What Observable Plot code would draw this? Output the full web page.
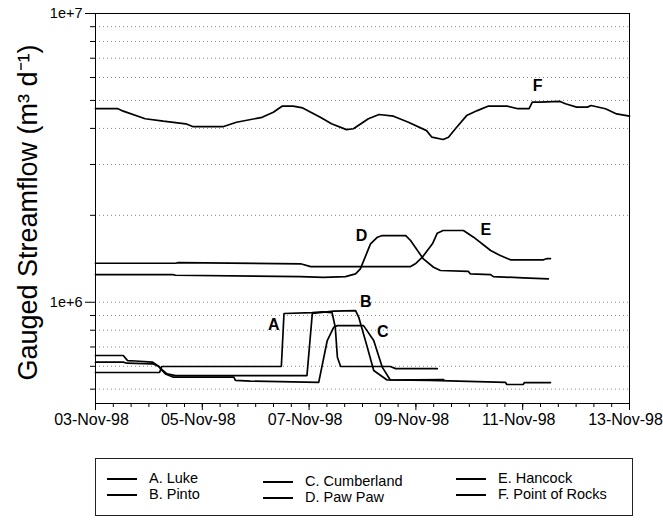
<!DOCTYPE html>
<html><head><meta charset="utf-8">
<script src="https://cdn.jsdelivr.net/npm/d3@7"></script>
<script src="https://cdn.jsdelivr.net/npm/@observablehq/plot@0.6"></script>
<style>
body{margin:0;background:#fff;font-family:Arial,"Liberation Sans",sans-serif;}
#chart{width:663px;height:445px;}
#legend{position:relative;margin-left:95px;margin-top:13px;width:538px;height:58px;border:1px solid #222;box-sizing:border-box;font-size:14.5px;color:#000;}
#legend .it{position:absolute;white-space:nowrap;line-height:16px;}
#legend .sw{display:inline-block;width:30px;height:0;border-top:2px solid #000;vertical-align:middle;margin-right:12px;}
</style></head><body>
<div id="chart"></div>
<div id="legend"></div>
<script>
// ---- data (day = fractional day of November 1998, value in millions m3/d) ----
const seriesNames = ["A. Luke","B. Pinto","C. Cumberland","D. Paw Paw","E. Hancock","F. Point of Rocks"];
const lukeA = [[3.00,0.571],[4.20,0.571],[4.24,0.599],[6.48,0.599],[6.53,0.914],[7.06,0.921],[7.25,0.926],[7.43,0.921],[7.49,0.819],[7.53,0.645],[7.59,0.599],[8.52,0.599],[8.62,0.589],[9.40,0.589]];
const pintoB = [[3.00,0.654],[3.52,0.654],[3.60,0.628],[3.75,0.626],[4.07,0.620],[4.16,0.604],[4.25,0.583],[4.34,0.565],[4.50,0.557],[6.96,0.557],[7.06,0.914],[7.46,0.931],[7.87,0.936],[7.93,0.887],[8.09,0.698],[8.21,0.580],[8.46,0.538],[9.52,0.540]];
const cumberlandC = [[3.00,0.620],[3.52,0.620],[3.59,0.615],[4.07,0.612],[4.19,0.599],[4.22,0.588],[4.31,0.565],[4.46,0.550],[5.59,0.550],[5.62,0.536],[5.90,0.533],[7.18,0.528],[7.34,0.737],[7.46,0.819],[7.53,0.830],[8.02,0.830],[8.21,0.737],[8.37,0.596],[8.52,0.538],[9.27,0.536],[10.68,0.528],[10.70,0.519],[11.01,0.519],[11.03,0.527],[11.52,0.527]];
const pawpawD = [[3.00,1.247],[4.45,1.247],[4.50,1.240],[6.84,1.227],[7.27,1.220],[7.68,1.227],[7.87,1.254],[7.96,1.305],[8.15,1.593],[8.28,1.680],[8.37,1.702],[8.81,1.702],[8.90,1.636],[9.03,1.511],[9.14,1.413],[9.33,1.322],[9.46,1.288],[9.98,1.280],[10.02,1.254],[10.40,1.247],[10.45,1.227],[11.01,1.215],[11.48,1.205]];
const hancockE = [[3.00,1.365],[4.50,1.365],[4.55,1.372],[6.84,1.359],[7.03,1.329],[8.90,1.329],[8.99,1.359],[9.12,1.432],[9.31,1.593],[9.40,1.734],[9.51,1.772],[9.89,1.772],[10.08,1.680],[10.40,1.511],[10.58,1.451],[10.77,1.403],[11.39,1.403],[11.46,1.417],[11.52,1.415]];
const pointOfRocksF = [[3.00,4.68],[3.42,4.68],[3.52,4.59],[3.93,4.32],[4.27,4.24],[4.69,4.15],[4.82,4.06],[5.40,4.06],[5.64,4.20],[6.12,4.37],[6.33,4.55],[6.50,4.78],[6.70,4.78],[6.88,4.71],[7.21,4.37],[7.42,4.15],[7.70,3.96],[7.83,3.99],[8.11,4.32],[8.31,4.47],[8.58,4.41],[8.86,4.20],[9.20,3.93],[9.30,3.73],[9.51,3.66],[9.61,3.73],[9.74,3.99],[9.95,4.43],[10.15,4.61],[10.36,4.78],[10.71,4.78],[10.91,4.68],[11.12,4.68],[11.18,4.93],[11.32,4.93],[11.70,4.96],[11.80,4.87],[12.01,4.74],[12.21,4.74],[12.28,4.80],[12.55,4.68],[12.76,4.49],[13.00,4.41]];
const labelTexts = ["A","B","C","D","E","F"];
const labelDays = [6.34,8.06,8.38,7.98,10.31,11.28];
const labelValues = [0.837,1.006,0.792,1.702,1.786,5.61];
const yMajorTicks = [1e6,1e7];
const yMinorTicks = [5e5,6e5,7e5,8e5,9e5,2e6,3e6,4e6,5e6,6e6,7e6,8e6,9e6];
const yTickLabels = ["1e+6","1e+7"];
const yLabel = "Gauged Streamflow (m\u00B3 d\u207B\u00B9)";

// ---- build ----
const toDate = d => new Date(Date.UTC(1998,10,1) + (d-1)*864e5);
const allSeries = [lukeA,pintoB,cumberlandC,pawpawD,hancockE,pointOfRocksF];
const rows = allSeries.flatMap((s,i)=>s.map(([d,v])=>({name:seriesNames[i],date:toDate(d),value:v*1e6})));
const labels = labelTexts.map((t,i)=>({text:t,date:toDate(labelDays[i]),value:labelValues[i]*1e6}));
const x0 = toDate(3), x1 = toDate(13);
const majorX = d3.utcDay.every(2).range(x0, new Date(+x1+1));
const minorX = d3.utcHour.every(8).range(x0, new Date(+x1+1));
const fmt = d3.utcFormat("%d-%b-%y");

const chart = Plot.plot({
  width:663, height:445,
  marginLeft:95, marginRight:34, marginTop:13, marginBottom:42,
  style:{fontFamily:"Arial, 'Liberation Sans', sans-serif", fontSize:"14px", background:"#fff", color:"#000", overflow:"visible"},
  x:{type:"utc", domain:[x0,x1]},
  y:{type:"log", domain:[4.46e5,1e7]},
  marks:[
    Plot.ruleY([...yMinorTicks,1e6], {stroke:"#8a8a8a", strokeDasharray:"1,3", strokeWidth:1}),
    Plot.line(rows, {x:"date", y:"value", z:"name", stroke:"#000", strokeWidth:1.7, strokeLinejoin:"miter"}),
    Plot.text(labels, {x:"date", y:"value", text:"text", fontSize:16, fontWeight:"bold", fill:"#000"}),
    Plot.frame({stroke:"#000", strokeWidth:1}),
    Plot.axisY(yMajorTicks, {tickSize:10, tickPadding:3, tickFormat:(d)=>yTickLabels[yMajorTicks.indexOf(d)], fontSize:14.5, label:null}),
    Plot.axisY(yMinorTicks, {tickSize:5, tickFormat:()=>"", label:null}),
    Plot.axisX(majorX, {tickSize:7, tickFormat:()=>"", label:null}),
    Plot.text(majorX, {x:d=>d, text:d=>fmt(d), frameAnchor:"bottom", lineAnchor:"top", dy:10, dx:-4, fontSize:16, fill:"#000"}),
    Plot.axisX(minorX, {tickSize:4, tickFormat:()=>"", label:null}),
    Plot.text([yLabel], {frameAnchor:"left", text:d=>d, rotate:-90, textAnchor:"middle", dx:-67, dy:4, fontSize:27, fill:"#000"})
  ]
});
document.getElementById("chart").append(chart);

// legend
const legendPos = [[11,19],[11,35],[167,22],[167,38],[360,19],[360,35]];
const lg = document.getElementById("legend");
seriesNames.forEach((n,i)=>{
  const it = document.createElement("div");
  it.className="it";
  it.style.left = legendPos[i][0]+"px";
  it.style.top = (legendPos[i][1]-8)+"px";
  it.innerHTML = '<span class="sw"></span>'+n;
  lg.append(it);
});
</script>
</body></html>
